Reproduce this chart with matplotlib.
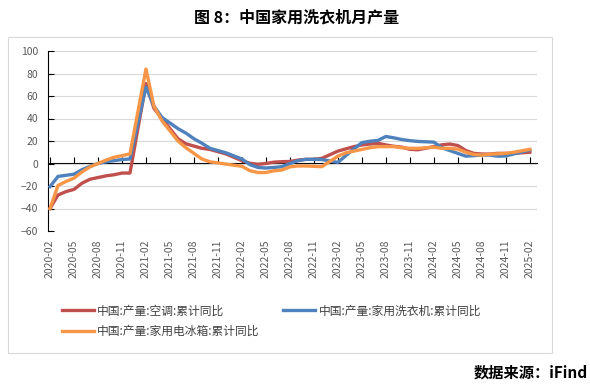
import matplotlib
matplotlib.use("Agg")
import matplotlib.pyplot as plt
from matplotlib.patches import Rectangle

plt.rcParams['font.family'] = ['Noto Sans CJK SC', 'DejaVu Sans']

# Months (January is not published; Feb holds Jan-Feb cumulative)
months = [f"{y}-{m:02d}" for y in range(2020, 2025) for m in range(2, 13)] + ["2025-02"]

ac = [-40, -28, -25, -23, -17.5, -14, -12.5, -11, -10, -8.5, -8.5,
      71, 49, 40, 31, 22, 17.5, 15.5, 13.5, 12.5, 10.5, 8.5,
      2.5, 0.2, -0.7, 0, 1.2, 1.6, 1.8, 3, 3.7, 3.7, 4.6,
      11, 13, 15, 16.5, 17.3, 18, 16.5, 15.3, 14.5, 12.6, 12.2,
      15, 16.6, 17.3, 16, 11.5, 9, 8.4, 8.4, 9, 9, 9,
      10]
washer = [-20.5, -11.5, -10.5, -9.5, -5.5, -2.5, 0, 1.5, 2.5, 3.5, 4,
          68, 51, 41, 36, 31, 27, 22, 18, 13.5, 11.5, 9.5,
          4, -1, -3.5, -4, -3.5, -2.8, 0, 2.5, 3.7, 3.7, 3.5,
          1, 7, 13, 18.5, 19.8, 20.5, 24, 22.8, 21.3, 20.3, 19.6,
          19, 14, 11.5, 9, 6.5, 7, 7.5, 7.5, 6.5, 6.7, 8.5,
          12]
fridge = [-40, -19.5, -16, -13, -7.5, -3, 0, 3, 5.5, 7, 8.5,
          84, 51, 38, 29, 20, 14, 9, 4, 1.5, 0.5, -0.5,
          -2.5, -6.4, -8, -8, -6.5, -5.8, -3, -2.2, -2.2, -2.5, -2.8,
          6.5, 9.5, 11, 12.5, 14, 15, 15, 15, 14, 13.5, 13.5,
          14.5, 13.5, 13.5, 12.8, 10, 8, 7.5, 8.2, 8.6, 9, 10,
          12.6]

series_names = ["中国:产量:空调:累计同比", "中国:产量:家用洗衣机:累计同比", "中国:产量:家用电冰箱:累计同比"]
series_colors = ["#C0504D", "#4F81BD", "#F79646"]

def month_index(s):
    y, m = s.split("-")
    return (int(y) - 2020) * 12 + int(m) - 2

x = [month_index(s) for s in months]
tick_labels = [f"{y}-{m:02d}" for y in range(2020, 2026) for m in (2, 5, 8, 11)][:21]
tick_pos = [month_index(s) for s in tick_labels]

W, H = 590, 386
fig = plt.figure(figsize=(W / 100, H / 100), dpi=100)

# outer chart frame
fig.patches.append(Rectangle((8 / W, 1 - 353 / H), (552 - 8) / W, (353 - 37) / H,
                             transform=fig.transFigure, fill=False,
                             edgecolor="#D9D9D9", linewidth=0.8))

ax = fig.add_axes([48 / W, 1 - 231 / H, (537 - 48) / W, (231 - 51) / H])
ax.set_ylim(-60, 100)
ax.set_xlim(-0.25, 60.9)
ax.set_yticks(range(-60, 101, 20))
ax.grid(axis="y", color="#D9D9D9", linewidth=0.8)
ax.set_axisbelow(True)
for s in ["top", "right", "bottom"]:
    ax.spines[s].set_visible(False)
ax.spines["left"].set_color("black")
ax.spines["left"].set_linewidth(0.8)
ax.tick_params(axis="y", direction="in", length=4, width=0.8,
               labelsize=7.5, labelcolor="#595959", pad=7)
ax.set_xticks(tick_pos)
ax.set_xticklabels(tick_labels, rotation=90)
ax.tick_params(axis="x", length=0, labelsize=7.5, labelcolor="#595959", pad=6)

# zero axis with tick marks
sec = ax.secondary_xaxis(60 / 160)
sec.set_xticks(tick_pos)
sec.tick_params(axis="x", direction="in", length=4, width=0.8, labelbottom=False, color="black")
sec.spines["bottom"].set_color("black")
sec.spines["bottom"].set_linewidth(0.8)

handles = []
for vals, c, name in zip([ac, washer, fridge], series_colors, series_names):
    ln, = ax.plot(x, vals, color=c, linewidth=2.4, solid_joinstyle="round", zorder=3)
    handles.append(ln)

order = [0, 2, 1]
fig.legend([handles[i] for i in order], [series_names[i] for i in order],
           ncol=2, loc="upper left", bbox_to_anchor=(51 / W, 1 - 294 / H),
           frameon=False, fontsize=8.5, handlelength=2.7, handletextpad=0.3,
           columnspacing=2.0, labelspacing=0.6, labelcolor="#404040")

fig.text(297 / W, 1 - 17 / H, "图 8：中国家用洗衣机月产量", ha="center", va="center",
         fontsize=11.5, fontweight="bold", color="black")
fig.text(588 / W, 1 - 373 / H, "数据来源：iFind", ha="right", va="center",
         fontsize=11, fontweight="bold", color="black")

fig.savefig("out.png", dpi=100)
